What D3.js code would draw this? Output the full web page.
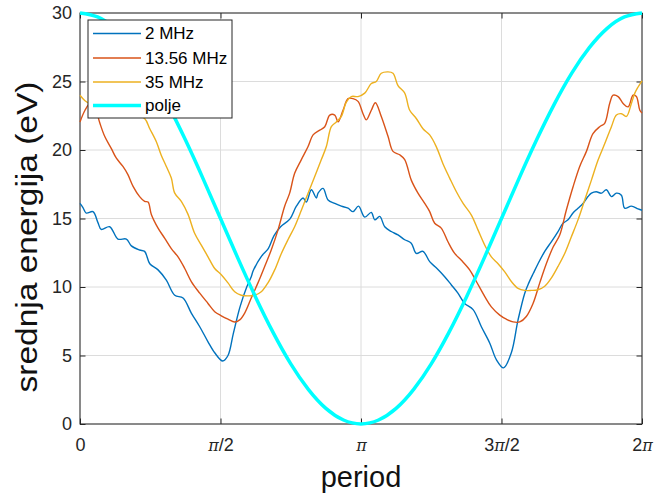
<!DOCTYPE html>
<html><head><meta charset="utf-8">
<script src="https://cdn.jsdelivr.net/npm/d3@7"></script>
<style>body{margin:0;background:#fff} svg text{font-family:Arial,"Liberation Sans",sans-serif}</style>
</head><body><svg id="c" width="654" height="495"></svg>
<script>
// phase in degrees of one period (0..360 = 0..2π), value in eV
const xTickValues = [0, 90, 180, 270, 360];
const xTickLabels = ["0", "π/2", "π", "3π/2", "2π"];
const yTickValues = [0, 5, 10, 15, 20, 25, 30];
const seriesNames = ["2 MHz", "13.56 MHz", "35 MHz", "polje"];

const s2MHz = [[0,16.1],[1.9,15.8],[4,15.4],[8.3,15.5],[11.5,14.7],[13.6,14.2],[19,14.4],[24.3,13.5],[29.7,13.5],[32.9,13],[38.2,12.7],[41.4,12.6],[44.7,11.7],[50,11.25],[55.3,10.5],[60.7,9.4],[66,9.2],[71.3,8.1],[76.7,7.1],[82,6],[86.3,5.2],[91.4,4.6],[94.8,5],[98.2,6.6],[102.5,8.55],[106.8,10],[109.7,10.75],[111,11.2],[116.3,12.25],[120.6,12.8],[124.3,13.75],[128.5,14.4],[134.4,14.95],[138.6,15.9],[142.9,16.5],[145,16.2],[148.2,17.1],[151.4,16.5],[152.5,16.85],[155.7,17.2],[158.9,16.35],[163.2,16.1],[167.4,15.9],[171.7,15.75],[174.9,15.5],[178.4,15.9],[182.4,15.1],[186.6,15.45],[188.8,14.9],[192,15.15],[195.2,14.4],[199.4,14.05],[203.7,13.8],[208,13.45],[212.2,13.2],[215.4,12.45],[219.7,12.6],[224,11.85],[228.2,11.4],[233.6,10.75],[237.9,10.15],[242.1,9.55],[246.4,8.8],[251.8,8.35],[257.1,7.1],[262.5,5.9],[266.7,4.7],[271.3,4.1],[276.3,5.2],[280.6,7.6],[284.9,9.55],[287.5,10.3],[290.4,11],[293.4,11.7],[297.7,12.6],[301.9,13.3],[306.2,14.05],[309.4,14.65],[312.6,14.9],[315.8,15.4],[319,15.75],[322.2,16.1],[325.4,16.6],[327.6,16.85],[330.7,16.95],[334,16.85],[337.2,17.1],[340.4,16.6],[343.6,16.85],[346.8,16.7],[348.9,15.75],[353.2,15.9],[357.5,15.7],[360,15.6]];

const s13MHz = [[0,22.05],[3.2,22.9],[6.4,23.4],[9,23.3],[12.6,22],[15.8,21],[20.1,20.1],[23.3,19.4],[27.5,18.8],[30.7,18.2],[34,17.35],[38.2,16.6],[41.4,16.25],[43.6,16.2],[45.7,15.3],[50,14.3],[54.3,13.55],[58.5,12.8],[62.8,12.2],[67.1,11.35],[71.3,10.4],[76.7,9.55],[82,8.8],[86.3,8.2],[90.5,7.9],[94.8,7.65],[99.1,7.45],[102.3,7.6],[105.5,8.1],[109.7,9.2],[114,10.3],[118.3,11.5],[122.5,12.7],[126.8,14.15],[131.1,15.9],[134.3,16.85],[137.5,18.3],[141.8,19.3],[146.1,20.25],[149.3,21.1],[153.6,21.45],[156.8,21.7],[160,22.55],[163.2,22.55],[165.3,22.05],[168.5,22.9],[171.7,23.75],[174.9,23.75],[178.1,23.55],[181.3,22.65],[183.4,22.2],[186.6,22.9],[189.2,23.45],[193,22.45],[197.3,21],[200.5,19.9],[204.8,19.65],[208,19.3],[212.2,17.8],[216.5,16.85],[220.8,16.1],[224,15.5],[227.2,14.65],[231.4,14.3],[235.7,13.3],[240,12.45],[244.3,11.95],[249.6,11.25],[253.9,10.4],[259.3,9.3],[263.5,8.55],[268.9,7.95],[273.1,7.65],[277.4,7.45],[281.7,7.45],[285.9,7.85],[290.2,8.8],[294.5,10.3],[298.7,11.7],[303,12.9],[307.3,13.8],[311.5,15.6],[315.8,17.3],[320.1,18.8],[324.4,19.9],[328.6,21.2],[332.9,21.7],[336.1,21.95],[339.3,23.4],[341.5,24],[344.7,23.9],[347.9,23.4],[351.1,23.15],[354.3,24],[356.4,23.9],[358.6,22.9],[360,22.7]];

const s35MHz = [[0,24],[3.2,23.6],[7.7,23.3],[16,23.1],[25.6,22.9],[35.2,22.6],[41.4,22.3],[44.7,21.55],[48.9,20.6],[52.1,19.6],[55.3,18.8],[58.5,17.95],[60.7,16.85],[64.9,16.25],[69.2,15.3],[73.5,13.9],[77.7,13.05],[82,12.2],[86.3,11.35],[90.5,10.9],[94.8,10.3],[99.1,9.65],[103.3,9.4],[107.6,9.35],[111.9,9.4],[116.1,9.65],[120.4,10.3],[124.7,11.25],[129,12.45],[133.2,13.45],[137.5,14.4],[141.8,15.6],[146.1,16.85],[150.3,18.05],[154.6,19.3],[157.8,20.25],[161,21.7],[164.2,22.05],[167.4,22.45],[170.6,23.5],[173.8,23.9],[178.1,23.9],[182.4,24.15],[186.6,24.85],[189.8,25],[193,25.6],[197.3,25.7],[200.5,25.6],[203.7,24.7],[208,24.15],[211.2,22.9],[215.4,22.3],[219.7,21.55],[224,21.1],[228.2,20.25],[232.5,19],[236.8,17.95],[241.1,16.95],[245.4,16.1],[250.7,15.25],[255,14.15],[259.3,13.05],[263.5,12.2],[267.8,11.7],[272.1,11.1],[276.3,10.4],[280.6,9.9],[284.9,9.75],[289.1,9.75],[293.4,9.8],[297.7,10.05],[301.9,10.65],[306.2,11.5],[310.5,12.45],[314.7,13.65],[319,14.9],[323.3,16.35],[327.6,17.8],[331.8,19.25],[336.1,20.45],[340.4,21.7],[343.6,22.55],[346.8,22.65],[350,22.45],[353.2,23.4],[355.4,24.15],[357.5,24.6],[360,25.05]];

const sPolje = [[0,30],[11.25,29.71],[22.5,28.86],[33.75,27.47],[45,25.61],[56.25,23.33],[67.5,20.74],[78.75,17.93],[90,15],[101.25,12.07],[112.5,9.26],[123.75,6.67],[135,4.39],[146.25,2.53],[157.5,1.14],[168.75,0.29],[180,0],[191.25,0.29],[202.5,1.14],[213.75,2.53],[225,4.39],[236.25,6.67],[247.5,9.26],[258.75,12.07],[270,15],[281.25,17.93],[292.5,20.74],[303.75,23.33],[315,25.61],[326.25,27.47],[337.5,28.86],[348.75,29.71],[360,30]];

const colors = ["#0072BD", "#D95319", "#EDB120", "#00FFFF"];
const widths = [1.4, 1.4, 1.4, 3.5];
const allSeries = [s2MHz, s13MHz, s35MHz, sPolje];

const svg = d3.select("#c");
const L = 80, R = 642, T = 13, B = 424;
const x = d3.scaleLinear().domain([0, 360]).range([L, R]);
const y = d3.scaleLinear().domain([0, 30]).range([B, T]);
const axisCol = "#262626";

// grid
const grid = svg.append("g");
grid.selectAll("line.gx").data(xTickValues).join("line")
  .attr("x1", d => x(d)).attr("x2", d => x(d)).attr("y1", T).attr("y2", B)
  .attr("stroke", "#dcdcdc").attr("stroke-width", 1);
grid.selectAll("line.gy").data(yTickValues).join("line")
  .attr("y1", d => y(d)).attr("y2", d => y(d)).attr("x1", L).attr("x2", R)
  .attr("stroke", "#dcdcdc").attr("stroke-width", 1);

// axes
const tk = 5.5;
const gx = svg.append("g").attr("transform", `translate(0,${B})`)
  .call(d3.axisBottom(x).tickValues(xTickValues).tickSize(-tk).tickPadding(14.5).tickFormat((d, i) => xTickLabels[i]));
const gy = svg.append("g").attr("transform", `translate(${L},0)`)
  .call(d3.axisLeft(y).tickValues(yTickValues).tickSize(-tk).tickPadding(8));
const gxt = svg.append("g").attr("transform", `translate(0,${T})`)
  .call(d3.axisTop(x).tickValues(xTickValues).tickSize(-tk).tickFormat(""));
const gyr = svg.append("g").attr("transform", `translate(${R},0)`)
  .call(d3.axisRight(y).tickValues(yTickValues).tickSize(-tk).tickFormat(""));
[gx, gy, gxt, gyr].forEach(g => {
  g.select(".domain").remove();
  g.selectAll("line").attr("stroke", axisCol);
  g.selectAll("text").attr("fill", axisCol).style("font-size", "18px").style("font-family", "Arial, 'Liberation Sans', sans-serif");
});
// π styling
gx.selectAll("text").each(function(d, i) {
  const t = d3.select(this);
  const lbl = xTickLabels[i];
  t.text(null);
  lbl.split(/(π)/).filter(s => s.length).forEach(part => {
    const sp = t.append("tspan").text(part);
    if (part === "π") sp.style("font-family", "'DejaVu Serif', 'Liberation Serif', serif").style("font-style", "italic").style("font-size", "16px");
  });
});

svg.append("rect").attr("x", L).attr("y", T).attr("width", R - L).attr("height", B - T)
  .attr("fill", "none").attr("stroke", axisCol).attr("stroke-width", 1);

// lines
const line = d3.line().x(d => x(d[0])).y(d => y(d[1]));
allSeries.forEach((s, i) => {
  svg.append("path").datum(s)
    .attr("d", i === 3 ? line.curve(d3.curveNatural)(s) : line.curve(d3.curveCatmullRom.alpha(0.5))(s))
    .attr("fill", "none").attr("stroke", colors[i]).attr("stroke-width", widths[i])
    .attr("stroke-linejoin", "round");
});

// labels
svg.append("text").attr("x", x(180)).attr("y", 487).attr("text-anchor", "middle")
  .style("font-size", "29px").attr("fill", "#111").text("period");
svg.append("text").attr("transform", "translate(37,237) rotate(-90)").attr("text-anchor", "middle")
  .attr("textLength", 311).attr("lengthAdjust", "spacingAndGlyphs")
  .style("font-size", "29px").attr("fill", "#111").text("srednja energija (eV)");

// legend
const lg = svg.append("g");
lg.append("rect").attr("x", 88).attr("y", 20).attr("width", 144).attr("height", 98)
  .attr("fill", "#fff").attr("stroke", axisCol).attr("stroke-width", 1);
const ly = [33.5, 58, 82, 105.5];
seriesNames.forEach((n, i) => {
  lg.append("line").attr("x1", 93).attr("x2", 141).attr("y1", ly[i]).attr("y2", ly[i])
    .attr("stroke", colors[i]).attr("stroke-width", widths[i]);
  lg.append("text").attr("x", 145).attr("y", ly[i]).attr("dy", "0.35em")
    .style("font-size", "17px").attr("fill", "#000").text(n);
});
</script></body></html>
